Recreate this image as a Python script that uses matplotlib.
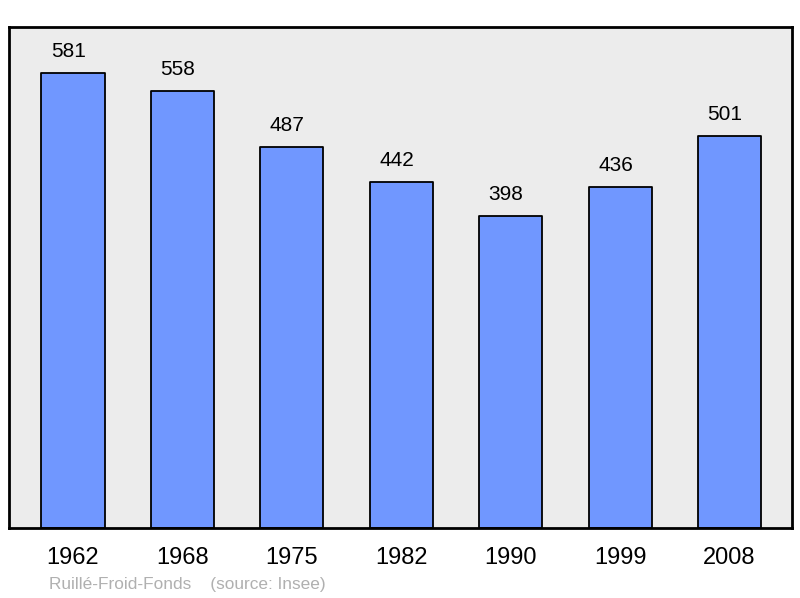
import matplotlib
matplotlib.use("Agg")
import matplotlib.pyplot as plt

years = ["1962", "1968", "1975", "1982", "1990", "1999", "2008"]
population = [581, 558, 487, 442, 398, 436, 501]
source_text = "Ruillé-Froid-Fonds    (source: Insee)"

plt.rcParams['font.family'] = ['Liberation Sans', 'DejaVu Sans']

fig = plt.figure(figsize=(8, 5.98), dpi=100)
ax = fig.add_axes([9/800, 70/598, 783/800, 501/598])
ax.set_facecolor("#ececec")

x = list(range(len(years)))
bars = ax.bar(x, population, width=0.577, color="#7097ff", edgecolor="black",
              linewidth=1.3, zorder=2)
for b in bars:
    b.set_joinstyle("round")

for xi, v in zip(x, population):
    ax.annotate(str(v), (xi, v), xytext=(-3.3, 11.5), textcoords="offset points",
                ha="center", va="baseline", fontsize=15, color="black")

ax.set_xlim(-0.585, 6.57)
ax.set_ylim(0, 640)
ax.set_xticks(x)
ax.set_xticklabels(years, fontsize=17)
ax.tick_params(axis="x", length=0, pad=14)
ax.set_yticks([])
for s in ax.spines.values():
    s.set_linewidth(2)
    s.set_color("black")
    s.set_joinstyle("round")

fig.text(49/800, 1 - 584/598, source_text, fontsize=12.4, color="#b0b0b0",
         ha="left", va="center")

fig.savefig("out.png", dpi=100)
